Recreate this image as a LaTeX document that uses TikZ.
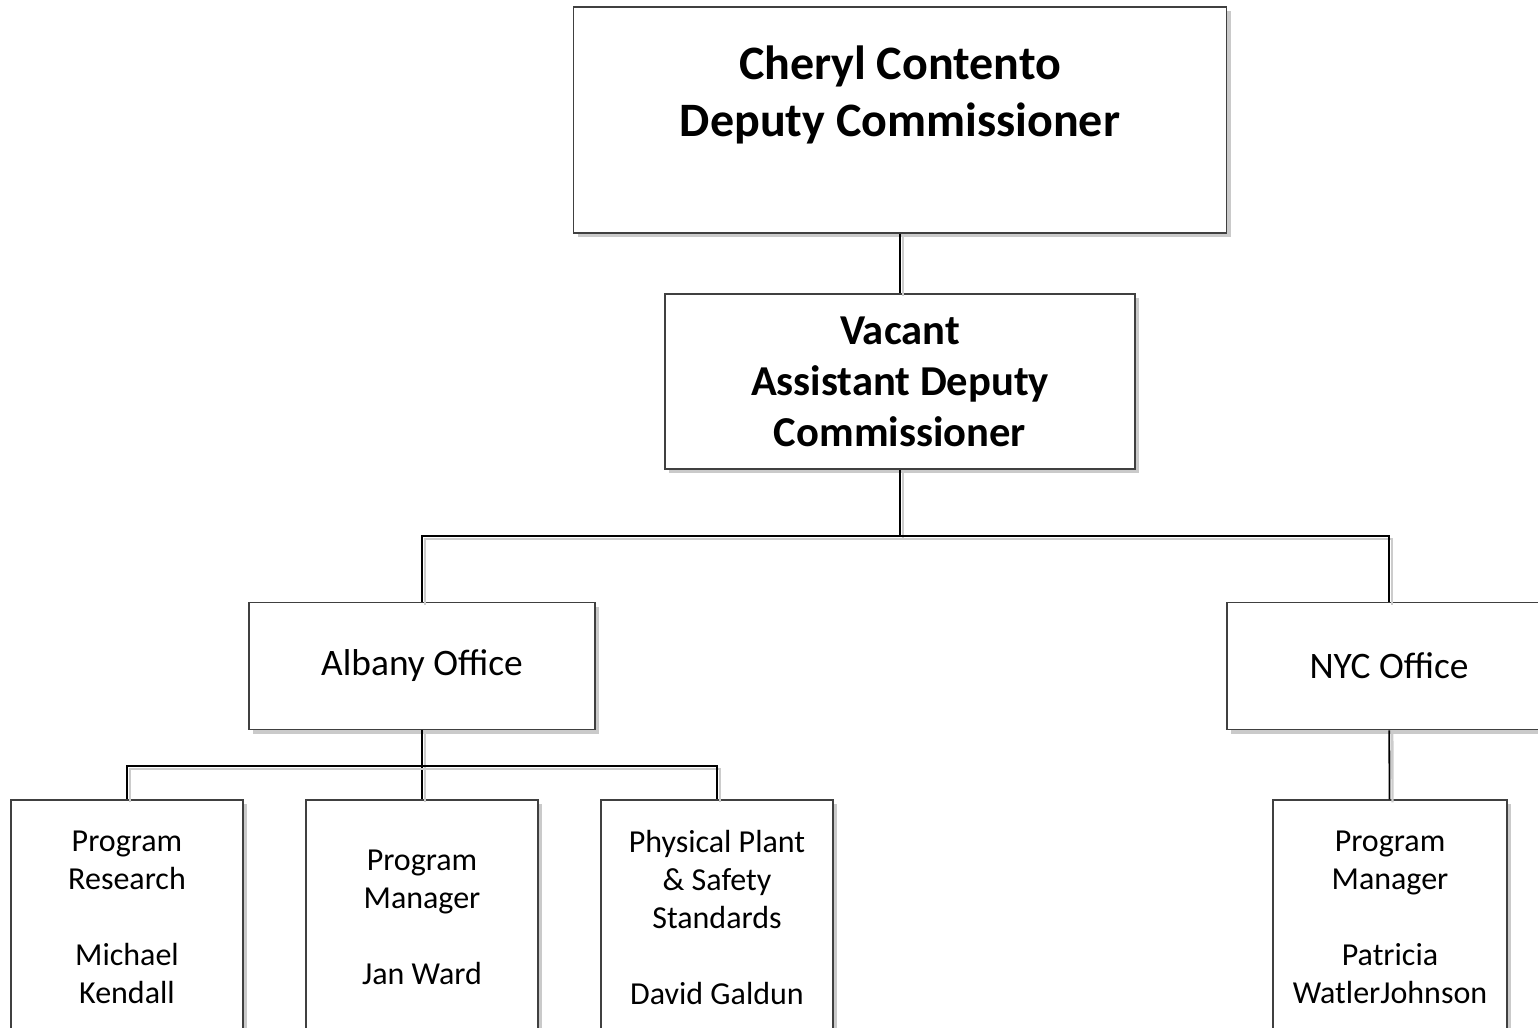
\documentclass[tikz,border=0pt]{standalone}
\usepackage{fontspec}
\setmainfont{Carlito}
\usetikzlibrary{shadows}
\definecolor{BoxClr}{rgb}{0.25,0.25,0.25}

\begin{document}
\begin{tikzpicture}[x=0.5pt,y=-0.5pt,
  box/.style={draw=BoxClr,line width=0.75pt,fill=white,inner sep=0pt,align=center,
    drop shadow={shadow xshift=2pt,shadow yshift=-2pt,opacity=0.35,fill=black!60}},
  headbox/.style={box,font=\bfseries\fontsize{24}{28.5}\selectfont},
  subbox/.style={box,font=\bfseries\fontsize{21.3}{25.5}\selectfont},
  officebox/.style={box,font=\fontsize{18.7}{22}\selectfont,minimum height=63.5pt},
  staffbox/.style={box,font=\fontsize{16}{19}\selectfont,minimum width=116pt,minimum height=117pt},
  link/.style={line width=0.9pt,black,
    preaction={draw=black!20,line width=1.2pt,transform canvas={shift={(1.5pt,-1.5pt)}}}}]
\useasboundingbox (0,0) rectangle (1538,1028);

% boxes
\node[headbox,minimum width=326.5pt,minimum height=113pt] (dc) at (900,120)
  {Cheryl Contento\\Deputy Commissioner\\\mbox{}};
\node[subbox,minimum width=235pt,minimum height=87.5pt] (adc) at (900,381.5)
  {Vacant\\Assistant Deputy\\ Commissioner};
\node[officebox,minimum width=173pt] (albany) at (422,666) {Albany Office};
\node[officebox,minimum width=162pt] (nyc) at (1389,666) {NYC Office};

\node[staffbox] (research) at (127,917) {Program\\Research\\[19pt]Michael\\Kendall};
\node[staffbox] (albmgr) at (422,917) {Program\\Manager\\[19pt]Jan Ward};
\node[staffbox] (plant) at (717,917) {Physical Plant\\\& Safety\\Standards\\[19pt]David Galdun};
\node[staffbox,minimum width=117pt] (nycmgr) at (1390,917) {Program\\Manager\\[19pt]Patricia\\WatlerJohnson};

% connectors
\coordinate (busA) at (900,536);
\coordinate (busB) at (422,766);
\begin{scope}[on background layer/.try]
\draw[link] (dc) -- (adc);
\draw[link] (adc) -- (busA);
\draw[link] (albany) |- (busA) -| (nyc);
\draw[link] (albany) -- (albmgr);
\draw[link] (research) |- (busB) -| (plant);
\draw[link] (nyc) -- (nycmgr);
\end{scope}

\end{tikzpicture}
\end{document}
